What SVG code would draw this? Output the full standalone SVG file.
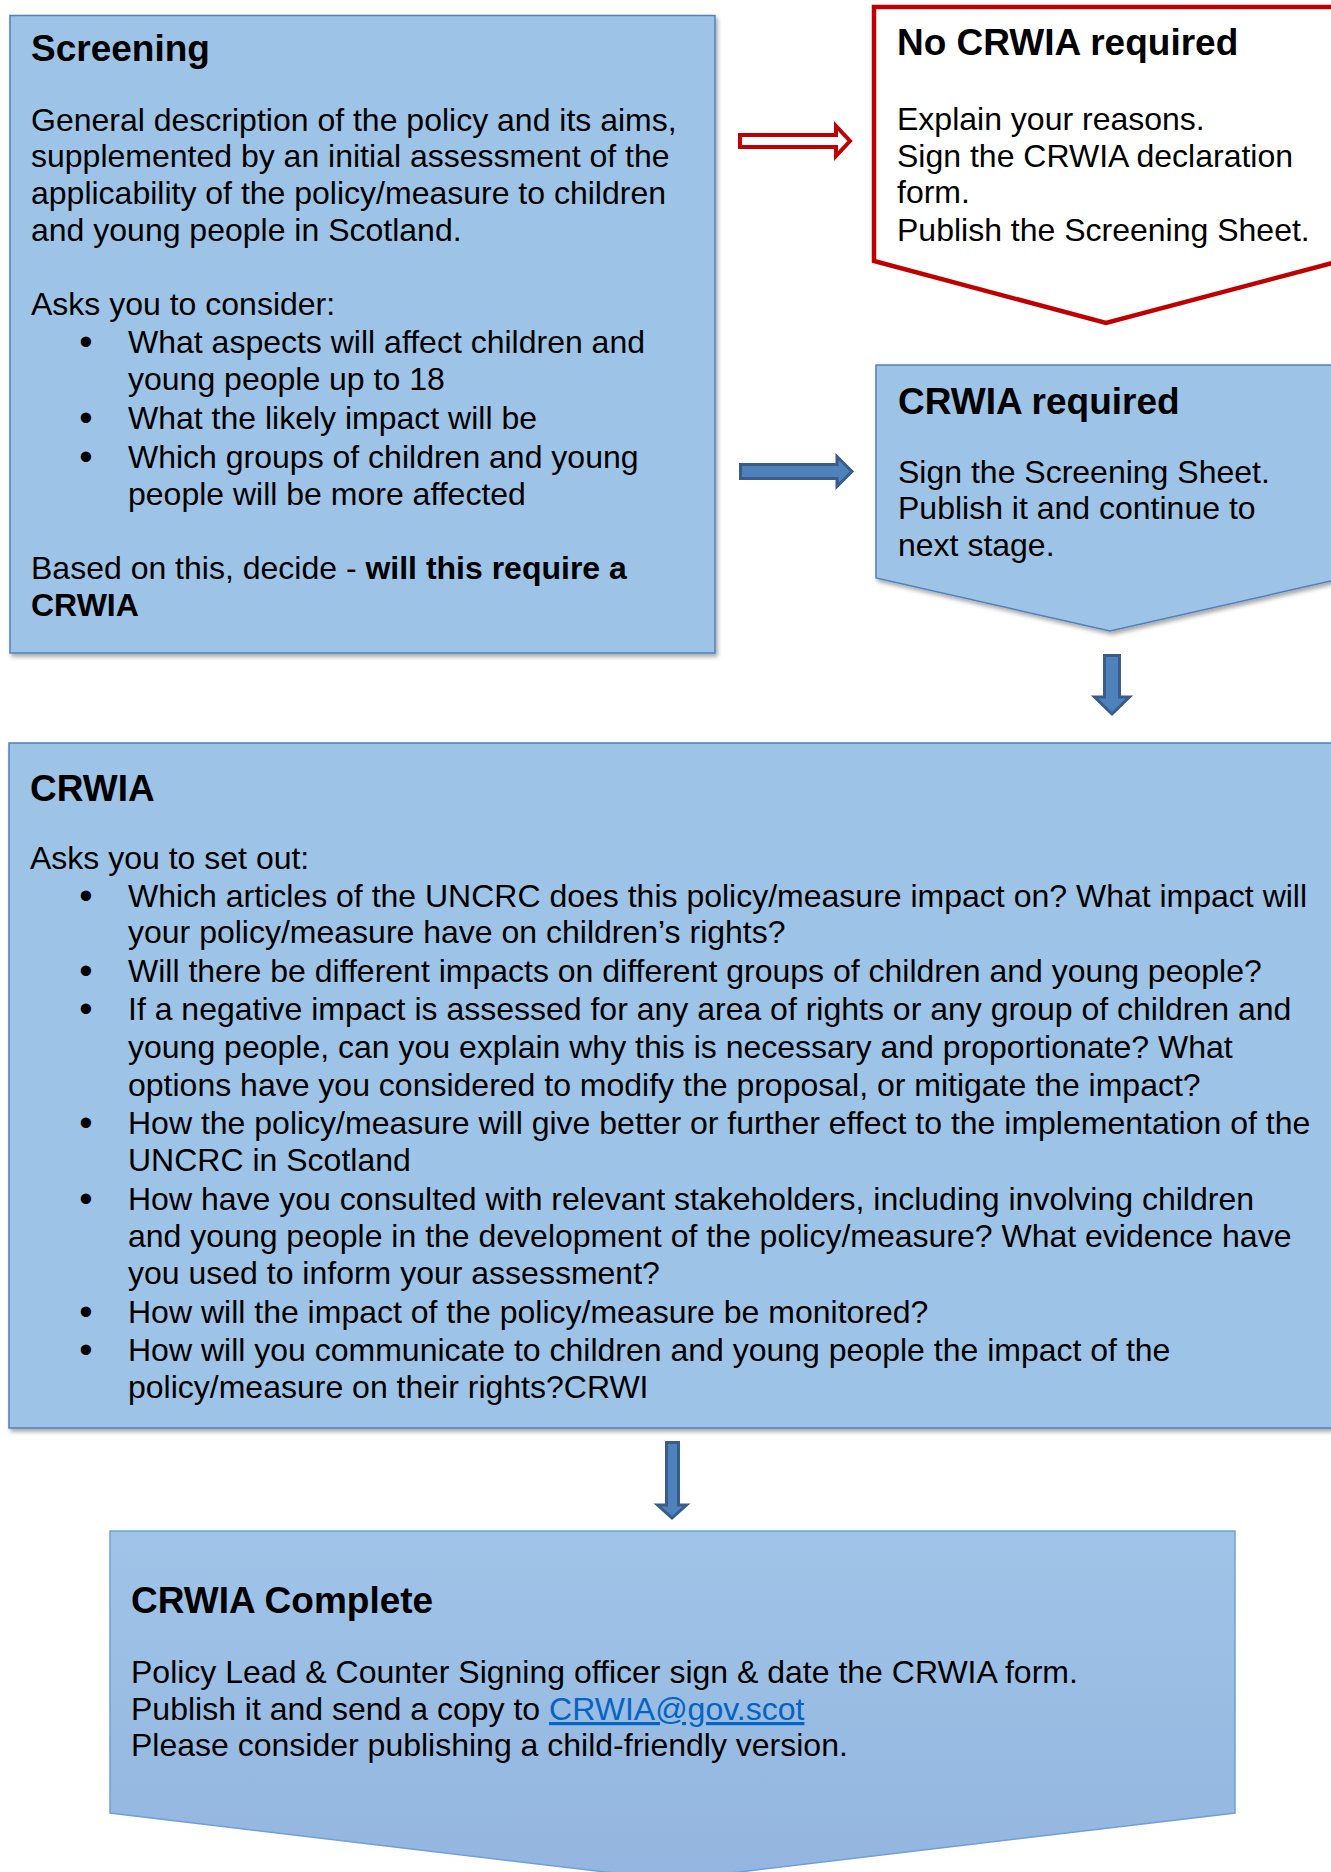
<svg xmlns="http://www.w3.org/2000/svg" width="1331" height="1872" viewBox="0 0 1331 1872">
<style>
text{font-family:"Liberation Sans",Arial,sans-serif;font-size:32px;fill:#000}
.t{font-size:37px;font-weight:bold}
.b{font-weight:bold}
.bu{font-size:38px}
.box{fill:#9DC3E6;stroke:#4F81BD;stroke-width:1.5}
.red{fill:#FFFFFF;stroke:#C00000;stroke-width:4.5;stroke-linejoin:miter}
.arr{fill:#4F81BD;stroke:#385D8A;stroke-width:3;stroke-linejoin:miter}
.redarr{fill:#FFFFFF;stroke:#C00000;stroke-width:4;stroke-linejoin:miter}
.link{fill:#0563C1;text-decoration:underline}
</style>
<defs>
<filter id="sh" x="-5%" y="-5%" width="115%" height="115%">
<feDropShadow dx="2" dy="3" stdDeviation="2" flood-color="#000" flood-opacity="0.35"/>
</filter>
<linearGradient id="g" x1="0" y1="0" x2="0" y2="1">
<stop offset="0" stop-color="#A0C4E8"/>
<stop offset="1" stop-color="#93B5DF"/>
</linearGradient>
</defs>
<rect width="1331" height="1872" fill="#FFFFFF"/>

<g id="screening">
<rect class="box" x="10" y="15.5" width="705" height="637.5" filter="url(#sh)"/>
<text class="t" x="31" y="61">Screening</text>
<text x="31" y="131">General description of the policy and its aims,</text>
<text x="31" y="167">supplemented by an initial assessment of the</text>
<text x="31" y="204">applicability of the policy/measure to children</text>
<text x="31" y="241">and young people in Scotland.</text>
<text x="31" y="315">Asks you to consider:</text>
<text class="bu" x="86" y="355" text-anchor="middle">•</text>
<text x="128" y="353">What aspects will affect children and</text>
<text x="128" y="390">young people up to 18</text>
<text class="bu" x="86" y="431" text-anchor="middle">•</text>
<text x="128" y="429">What the likely impact will be</text>
<text class="bu" x="86" y="470" text-anchor="middle">•</text>
<text x="128" y="468">Which groups of children and young</text>
<text x="128" y="505">people will be more affected</text>
<text x="31" y="579">Based on this, decide - <tspan class="b">will this require a</tspan></text>
<text class="b" x="31" y="616">CRWIA</text>
</g>

<g id="no-crwia">
<polygon class="red" points="874,7 1340,7 1340,261 1106,323 874,261"/>
<text class="t" x="897" y="55">No CRWIA required</text>
<text x="897" y="130">Explain your reasons.</text>
<text x="897" y="167">Sign the CRWIA declaration</text>
<text x="897" y="203">form.</text>
<text x="897" y="241">Publish the Screening Sheet.</text>
</g>

<g id="crwia-required">
<polygon class="box" points="876,365 1344,365 1344,578 1110,631 876,578" filter="url(#sh)"/>
<text class="t" x="898" y="414">CRWIA required</text>
<text x="898" y="483">Sign the Screening Sheet.</text>
<text x="898" y="519">Publish it and continue to</text>
<text x="898" y="556">next stage.</text>
</g>

<g id="crwia">
<rect class="box" x="9" y="743" width="1340" height="685" filter="url(#sh)"/>
<text class="t" x="30" y="801">CRWIA</text>
<text x="30" y="869">Asks you to set out:</text>
<text class="bu" x="86" y="909" text-anchor="middle">•</text>
<text x="128" y="907">Which articles of the UNCRC does this policy/measure impact on? What impact will</text>
<text x="128" y="943">your policy/measure have on children’s rights?</text>
<text class="bu" x="86" y="984" text-anchor="middle">•</text>
<text x="128" y="982">Will there be different impacts on different groups of children and young people?</text>
<text class="bu" x="86" y="1022" text-anchor="middle">•</text>
<text x="128" y="1020">If a negative impact is assessed for any area of rights or any group of children and</text>
<text x="128" y="1058">young people, can you explain why this is necessary and proportionate? What</text>
<text x="128" y="1096">options have you considered to modify the proposal, or mitigate the impact?</text>
<text class="bu" x="86" y="1136" text-anchor="middle">•</text>
<text x="128" y="1134">How the policy/measure will give better or further effect to the implementation of the</text>
<text x="128" y="1171">UNCRC in Scotland</text>
<text class="bu" x="86" y="1212" text-anchor="middle">•</text>
<text x="128" y="1210">How have you consulted with relevant stakeholders, including involving children</text>
<text x="128" y="1247">and young people in the development of the policy/measure? What evidence have</text>
<text x="128" y="1284">you used to inform your assessment?</text>
<text class="bu" x="86" y="1325" text-anchor="middle">•</text>
<text x="128" y="1323">How will the impact of the policy/measure be monitored?</text>
<text class="bu" x="86" y="1363" text-anchor="middle">•</text>
<text x="128" y="1361">How will you communicate to children and young people the impact of the</text>
<text x="128" y="1398">policy/measure on their rights?CRWI</text>
</g>

<g id="crwia-complete">
<polygon points="110,1531 1235,1531 1235,1813 672.5,1880 110,1813" fill="url(#g)" stroke="#6FA0D8" stroke-width="1.5"/>
<text class="t" x="131" y="1613">CRWIA Complete</text>
<text x="131" y="1683">Policy Lead &amp; Counter Signing officer sign &amp; date the CRWIA form.</text>
<text x="131" y="1720">Publish it and send a copy to <tspan class="link">CRWIA@gov.scot</tspan></text>
<text x="131" y="1756">Please consider publishing a child-friendly version.</text>
</g>

<g id="connectors">
<polygon class="redarr" points="740,135 836,135 836,126 850,141 836,156 836,147 740,147"/>
<polygon class="arr" points="740.5,464.5 837,464.5 837,456.5 852,471.5 837,486.5 837,478.5 740.5,478.5"/>
<polygon class="arr" points="1104.5,655.5 1119.5,655.5 1119.5,697 1129.5,697 1112,714 1094.5,697 1104.5,697"/>
<polygon class="arr" points="666.5,1442.5 678.5,1442.5 678.5,1505 686.5,1505 672,1518 657.5,1505 666.5,1505"/>
</g>
</svg>
